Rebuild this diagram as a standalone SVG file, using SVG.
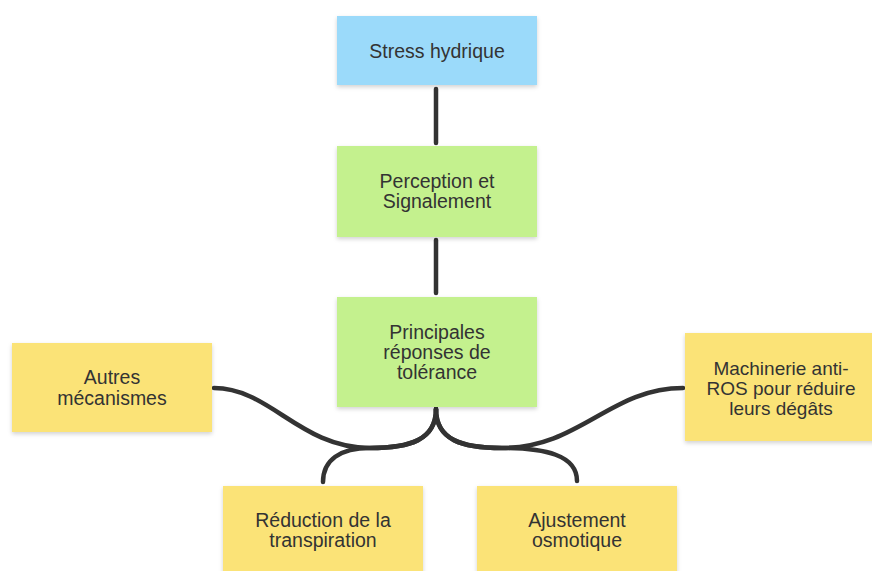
<svg xmlns="http://www.w3.org/2000/svg" width="872" height="571" viewBox="0 0 872 571">
<defs>
<filter id="sh" x="-10%" y="-10%" width="125%" height="130%">
<feDropShadow dx="0" dy="2" stdDeviation="2" flood-color="#000" flood-opacity="0.18"/>
</filter>
<style>
.blue{fill:#9bdafa;filter:url(#sh)}
.green{fill:#c4f18e;filter:url(#sh)}
.yellow{fill:#fbe377;filter:url(#sh)}
text{font-family:"Liberation Sans",Arial,sans-serif;font-size:19.5px;fill:#333;text-anchor:middle}
.m{font-size:19px}
.c{fill:none;stroke:#333;stroke-width:4.5;stroke-linecap:round}
</style>
</defs>
<rect width="872" height="571" fill="#fff"/>
<g id="connectors">
<path class="c" d="M436,89 V143"/>
<path class="c" d="M436,240 V293"/>
<path class="c" d="M436,409 C436,440 410,448 370,448 C300,448 270,388 214,388"/>
<path class="c" d="M436,409 C436,440 410,448 370,448 C340,448 323,460 323,482"/>
<path class="c" d="M436,409 C436,440 462,448 502,448 C580,448 610,388 683,388"/>
<path class="c" d="M436,409 C436,440 462,448 502,448 C545,448 577,455 577,481"/>
</g>
<g id="stress">
<rect class="blue" x="337" y="16" width="200" height="69"/>
<text x="437" y="58">Stress hydrique</text>
</g>
<g id="perception">
<rect class="green" x="337" y="146" width="200" height="91"/>
<text x="437" y="188">Perception et</text>
<text x="437" y="208">Signalement</text>
</g>
<g id="principales">
<rect class="green" x="337" y="297" width="200" height="110"/>
<text x="437" y="339">Principales</text>
<text x="437" y="359">réponses de</text>
<text x="437" y="379">tolérance</text>
</g>
<g id="autres">
<rect class="yellow" x="12" y="343" width="200" height="89"/>
<text x="112" y="384">Autres</text>
<text x="112" y="405">mécanismes</text>
</g>
<g id="machinerie">
<rect class="yellow" x="685" y="333" width="200" height="108"/>
<text class="m" x="781" y="375">Machinerie anti-</text>
<text class="m" x="781" y="395">ROS pour réduire</text>
<text class="m" x="781" y="415">leurs dégâts</text>
</g>
<g id="reduction">
<rect class="yellow" x="223" y="486" width="200" height="100"/>
<text x="323" y="527">Réduction de la</text>
<text x="323" y="547">transpiration</text>
</g>
<g id="ajustement">
<rect class="yellow" x="477" y="486" width="200" height="100"/>
<text x="577" y="527">Ajustement</text>
<text x="577" y="547">osmotique</text>
</g>
</svg>
